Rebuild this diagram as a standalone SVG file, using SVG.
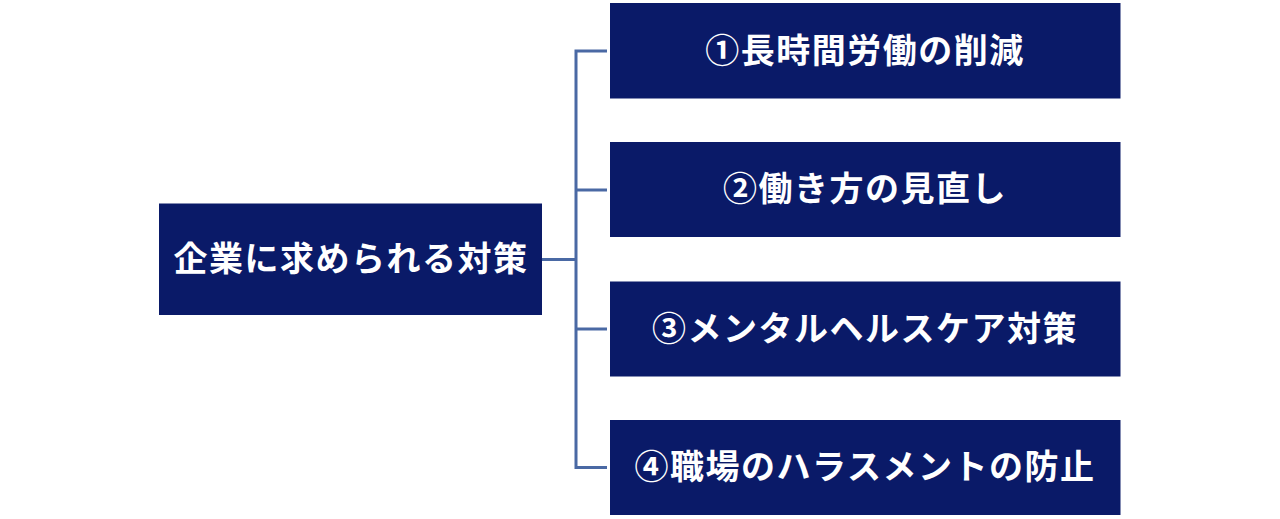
<svg xmlns="http://www.w3.org/2000/svg" width="1280" height="519" viewBox="0 0 1280 519">
  <style>
    .box { fill: #0A1A68; }
    .lbl { fill: #FFFFFF; font-family: "Noto Sans CJK JP", "Noto Sans", sans-serif; font-weight: bold; font-size: 34px; letter-spacing: 1.5px; text-anchor: middle; }
    .conn { fill: none; stroke: #4A69A4; stroke-width: 3; }
  </style>
  <rect width="1280" height="519" fill="#FFFFFF"/>
  <g id="connectors">
    <path class="conn" d="M542 259.5 H576"/>
    <path class="conn" d="M607 51 H576 V467.5 H607"/>
    <path class="conn" d="M576 190 H607"/>
    <path class="conn" d="M576 329 H607"/>
  </g>
  <g id="root">
    <rect class="box" x="159" y="203.5" width="383" height="111.5"/>
    <text class="lbl" x="351" y="270.5">企業に求められる対策</text>
  </g>
  <g id="n1">
    <rect class="box" x="610" y="3" width="510.5" height="95.5"/>
    <text class="lbl" x="865" y="62.5">①長時間労働の削減</text>
  </g>
  <g id="n2">
    <rect class="box" x="610" y="142" width="510.5" height="95"/>
    <text class="lbl" x="865" y="201">②働き方の見直し</text>
  </g>
  <g id="n3">
    <rect class="box" x="610" y="281.5" width="510.5" height="95"/>
    <text class="lbl" x="865" y="340.5">③メンタルヘルスケア対策</text>
  </g>
  <g id="n4">
    <rect class="box" x="610" y="420" width="510.5" height="95"/>
    <text class="lbl" x="865" y="479">④職場のハラスメントの防止</text>
  </g>
</svg>
